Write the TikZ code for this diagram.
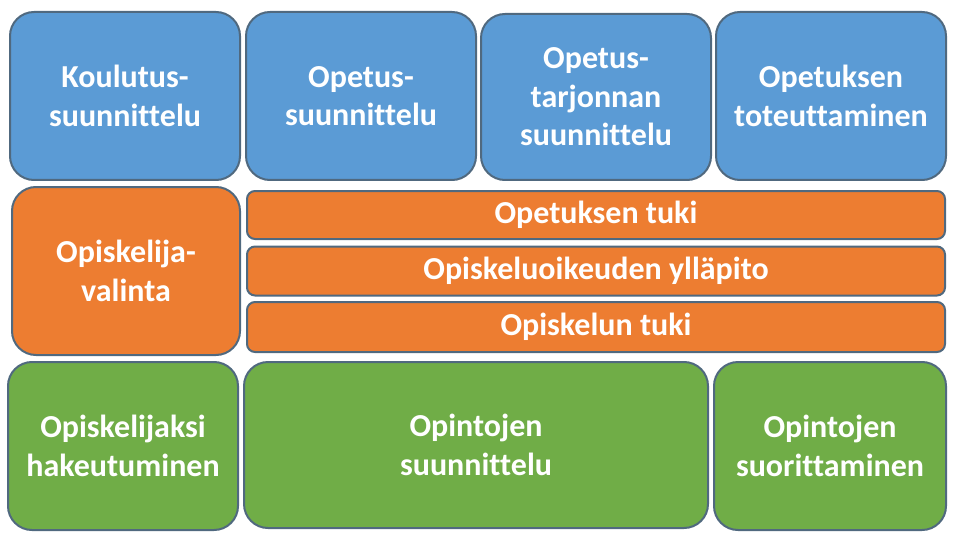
\documentclass[tikz,border=0pt]{standalone}
\usepackage{fontspec}
\setmainfont[Ligatures=NoCommon]{Carlito}
\definecolor{cblue}{HTML}{5B9BD5}
\definecolor{corange}{HTML}{ED7D31}
\definecolor{cgreen}{HTML}{70AD47}
\definecolor{cedge}{HTML}{50697F}
\begin{document}
\begin{tikzpicture}[x=1pt,y=-1pt,
  box/.style={draw=cedge, line width=2pt, rounded corners=24pt, text=white,
    font=\bfseries\fontsize{32}{38.5}\selectfont, align=center, inner sep=0pt},
  bar/.style={box, rounded corners=8pt, fill=corange},
  bluebox/.style={box, fill=cblue},
  orangebox/.style={box, fill=corange},
  greenbox/.style={box, fill=cgreen}]
\useasboundingbox (0,0) rectangle (960,540);
\node[bluebox, minimum width=230pt, minimum height=168pt] (b1) at (125,96) {Koulutus-\\suunnittelu};
\node[bluebox, minimum width=230pt, minimum height=168pt] (b2) at (361,96) {Opetus-\\suunnittelu};
\node[bluebox, minimum width=230pt, minimum height=166pt] (b3) at (596,97) {Opetus-\\tarjonnan\\suunnittelu};
\node[bluebox, minimum width=230pt, minimum height=168pt] (b4) at (831,96) {Opetuksen\\toteuttaminen};
\node[orangebox, minimum width=228pt, minimum height=168pt] (o1) at (126,271) {Opiskelija-\\valinta};
\node[bar, minimum width=698pt, minimum height=48pt] (r1) at (596,215) {Opetuksen tuki};
\node[bar, minimum width=698pt, minimum height=49pt] (r2) at (596,271) {Opiskeluoikeuden ylläpito};
\node[bar, minimum width=698pt, minimum height=50pt] (r3) at (596,327) {Opiskelun tuki};
\node[greenbox, minimum width=230pt, minimum height=168pt] (g1) at (123,446) {Opiskelijaksi\\hakeutuminen};
\node[greenbox, minimum width=464pt, minimum height=166pt] (g2) at (476,445) {Opintojen\\suunnittelu};
\node[greenbox, minimum width=232pt, minimum height=168pt] (g3) at (830,446) {Opintojen\\suorittaminen};
\end{tikzpicture}
\end{document}
